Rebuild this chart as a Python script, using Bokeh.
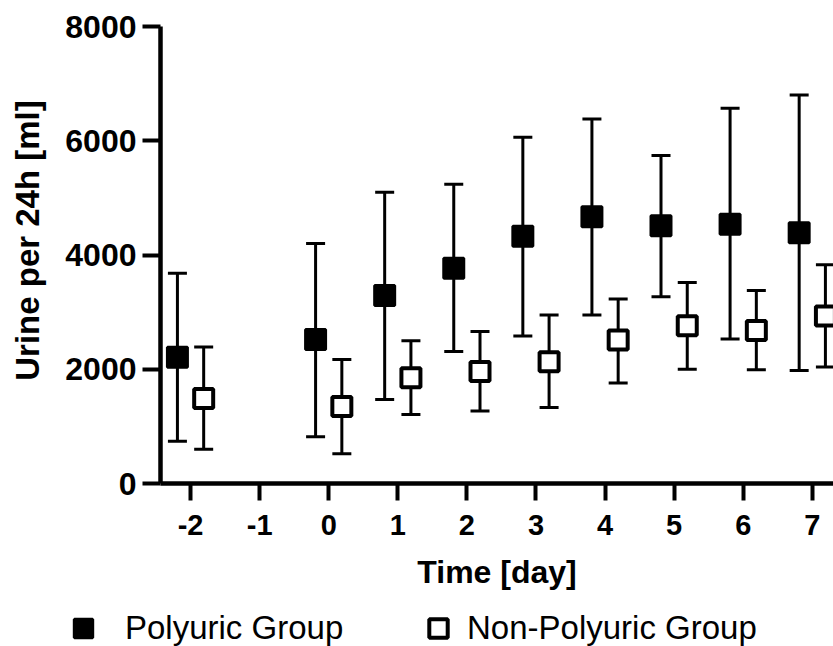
import math
from bokeh.plotting import figure
from bokeh.layouts import column, row
from bokeh.models import (ColumnDataSource, Range1d, FixedTicker, Whisker, TeeHead,
                          Legend, LegendItem, Label)
from bokeh.embed import file_html
from bokeh.resources import INLINE

# ---- data ----
days = [-2, 0, 1, 2, 3, 4, 5, 6, 7]
poly_mean = [2210, 2520, 3290, 3770, 4330, 4670, 4510, 4540, 4390]
poly_upper = [3680, 4200, 5100, 5240, 6060, 6380, 5740, 6570, 6800]
poly_lower = [740, 820, 1470, 2310, 2580, 2950, 3270, 2530, 1980]
non_mean = [1490, 1350, 1850, 1960, 2130, 2510, 2760, 2680, 2930]
non_upper = [2390, 2170, 2500, 2660, 2950, 3230, 3520, 3380, 3830]
non_lower = [600, 520, 1210, 1270, 1330, 1760, 2000, 1990, 2040]
x_ticks = [-2, -1, 0, 1, 2, 3, 4, 5, 6, 7]
y_ticks = [0, 2000, 4000, 6000, 8000]
group_offset = 0.19

poly_src = ColumnDataSource(dict(x=[d - group_offset for d in days], y=poly_mean,
                                 upper=poly_upper, lower=poly_lower))
non_src = ColumnDataSource(dict(x=[d + group_offset for d in days], y=non_mean,
                                upper=non_upper, lower=non_lower))

FONT = "Liberation Sans"


def bare(fig):
    fig.outline_line_color = None
    fig.xgrid.grid_line_color = None
    fig.ygrid.grid_line_color = None
    if "frame_align" in fig.properties():
        fig.frame_align = False
    return fig


# ---- main chart ----
p = figure(width=773, height=600, output_backend="svg", toolbar_location=None,
           x_range=Range1d(-2.435, 7.307), y_range=Range1d(0, 8000),
           min_border_left=100, min_border_right=0, min_border_top=26, min_border_bottom=117)
bare(p)
p.background_fill_color = "white"
p.border_fill_color = "white"

for ax in (p.xaxis[0], p.yaxis[0]):
    ax.axis_line_width = 4.5
    ax.axis_line_color = "black"
    ax.major_tick_line_width = 4
    ax.major_tick_line_color = "black"
    ax.major_tick_in = 0
    ax.minor_tick_line_color = None
    ax.major_label_text_font = FONT
    ax.major_label_text_font_style = "bold"
    ax.major_label_text_color = "black"

p.xaxis.ticker = FixedTicker(ticks=x_ticks)
p.xaxis.major_label_overrides = {t: str(t) for t in x_ticks}
p.yaxis.ticker = FixedTicker(ticks=y_ticks)
p.xaxis.major_tick_out = 17
p.yaxis.major_tick_out = 18
p.xaxis.major_label_text_font_size = "29px"
p.yaxis.major_label_text_font_size = "32px"
p.xaxis.major_label_standoff = 14
p.yaxis.major_label_standoff = 6

p.xaxis.axis_label = "Time [day]"
p.xaxis.axis_label_text_font = FONT
p.xaxis.axis_label_text_font_style = "bold"
p.xaxis.axis_label_text_font_size = "32px"
p.xaxis.axis_label_text_color = "black"
p.xaxis.axis_label_standoff = 16

# error bars
for src in (poly_src, non_src):
    w = Whisker(base="x", upper="upper", lower="lower", source=src, dimension="height",
                line_width=3, line_color="black",
                upper_head=TeeHead(size=19, line_width=3, line_color="black"),
                lower_head=TeeHead(size=19, line_width=3, line_color="black"))
    p.add_layout(w)

poly_style = dict(marker="square", size=20, fill_color="black", line_color="black", line_width=3)
non_style = dict(marker="square", size=19, fill_color="white", line_color="black", line_width=4)
p.scatter("x", "y", source=poly_src, **poly_style)
p.scatter("x", "y", source=non_src, **non_style)

# ---- y-axis title strip (left) ----
tf = bare(figure(width=60, height=600, output_backend="svg", toolbar_location=None,
                 x_range=Range1d(0, 1), y_range=Range1d(0, 1),
                 x_axis_type=None, y_axis_type=None,
                 min_border_left=0, min_border_right=0, min_border_top=0, min_border_bottom=0))
tf.add_layout(Label(x=27, y=360, x_units="screen", y_units="screen",
                    text="Urine per 24h [ml]", angle=math.pi / 2,
                    text_align="center", text_baseline="alphabetic",
                    text_font=FONT, text_font_style="bold", text_font_size="33px",
                    text_color="black"))

# ---- legend strip (bottom) ----
lf = bare(figure(width=833, height=46, output_backend="svg", toolbar_location=None,
                 x_range=Range1d(0, 1), y_range=Range1d(0, 1),
                 x_axis_type=None, y_axis_type=None,
                 min_border_left=0, min_border_right=0, min_border_top=0, min_border_bottom=0))
nan = float("nan")
lr_poly = lf.scatter(x=[nan], y=[nan], **poly_style)
lr_non = lf.scatter(x=[nan], y=[nan], **non_style)

common = dict(orientation="horizontal", padding=0, glyph_width=46, glyph_height=46,
              border_line_color=None, background_fill_alpha=0,
              label_text_font=FONT, label_text_font_size="33px", label_text_color="black")
leg1 = Legend(items=[LegendItem(label="Polyuric Group", renderers=[lr_poly])],
              location=(60, -5), label_standoff=19, **common)
leg2 = Legend(items=[LegendItem(label="Non-Polyuric Group", renderers=[lr_non])],
              location=(415, -5), label_standoff=6, **common)
lf.add_layout(leg1)
lf.add_layout(leg2)

layout = column(row(tf, p), lf)
open("out.html", "w").write(file_html(layout, INLINE))
